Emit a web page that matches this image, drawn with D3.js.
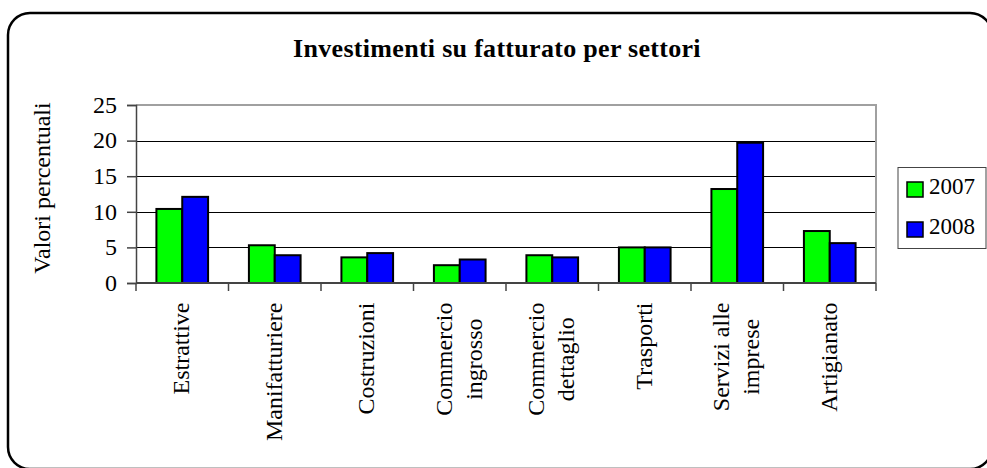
<!DOCTYPE html>
<html>
<head>
<meta charset="utf-8">
<script src="https://cdn.jsdelivr.net/npm/d3@7"></script>
<style>
  body { margin: 0; background: #fff; }
  svg text { font-family: "Liberation Serif", "Times New Roman", serif; fill: #000; }
</style>
</head>
<body>
<svg id="chart" width="987" height="468"></svg>
<script>
// sectors (a "\n" wraps the label onto two lines)
const categories = [
    "Estrattive", "Manifatturiere", "Costruzioni", "Commercio\ningrosso",
    "Commercio\ndettaglio", "Trasporti", "Servizi alle\nimprese", "Artigianato"
]
const series = ["2007", "2008"]
const values2007 = [10.4, 5.3, 3.6, 2.5, 3.9, 5.0, 13.2, 7.3]
const values2008 = [12.1, 3.9, 4.2, 3.3, 3.6, 5.0, 19.7, 5.6]
const yTicks = [0, 5, 10, 15, 20, 25]

const colors = { "2007": "#00ff00", "2008": "#0000ff" }

const plotLeft = 136,
    plotRight = 876,
    plotTop = 105,
    plotBottom = 283

const svg = d3.select("#chart")

// rounded outer frame (runs slightly off the right / bottom edge)
svg.append("rect")
    .attr("x", 8).attr("y", 13)
    .attr("width", 984).attr("height", 456)
    .attr("rx", 22).attr("ry", 22)
    .attr("fill", "#fff")
    .attr("stroke", "#000")
    .attr("stroke-width", 2.5)

svg.append("text")
    .attr("x", 497).attr("y", 57)
    .attr("text-anchor", "middle")
    .style("font-size", "26px")
    .style("font-weight", "bold")
    .style("letter-spacing", "0.3px")
    .text("Investimenti su fatturato per settori")

const x0 = d3.scaleBand()
    .domain(categories)
    .range([plotLeft, plotRight])

const x1 = d3.scaleBand()
    .domain(series)
    .range([0, x0.bandwidth()])
    .paddingInner(0)
    .paddingOuter(0.79)

const y = d3.scaleLinear()
    .domain([0, 25])
    .range([plotBottom, plotTop])

// gridlines
svg.append("g")
    .selectAll("line")
    .data(yTicks.filter(d => d > 0 && d < 25))
    .enter()
    .append("line")
    .attr("x1", plotLeft).attr("x2", plotRight)
    .attr("y1", d => Math.round(y(d)) + 0.5)
    .attr("y2", d => Math.round(y(d)) + 0.5)
    .attr("stroke", "#000")
    .attr("stroke-width", 1)

// plot area border, top and right
svg.append("path")
    .attr("d", `M${plotLeft},${y(25)}H${plotRight}V${plotBottom}`)
    .attr("fill", "none")
    .attr("stroke", "#a0a0a0")
    .attr("stroke-width", 2)

const rows = categories.map((c, i) => ({ cat: c, "2007": values2007[i], "2008": values2008[i] }))

// bars
svg.append("g")
    .selectAll("g")
    .data(rows)
    .enter()
    .append("g")
    .attr("transform", d => `translate(${x0(d.cat)},0)`)
    .selectAll("rect")
    .data(d => series.map(s => ({ key: s, value: d[s] })))
    .enter()
    .append("rect")
    .attr("x", d => x1(d.key))
    .attr("y", d => y(d.value))
    .attr("width", x1.bandwidth())
    .attr("height", d => y(0) - y(d.value))
    .attr("fill", d => colors[d.key])
    .attr("stroke", "#000")
    .attr("stroke-width", 2)

// y axis
const yAxis = d3.axisLeft(y)
    .tickValues(yTicks)
    .tickSize(9)
    .tickPadding(10)

const gy = svg.append("g")
    .attr("transform", `translate(${plotLeft},0)`)
    .call(yAxis)
gy.select(".domain").attr("stroke", "#444").attr("stroke-width", 1.5)
gy.selectAll(".tick line").attr("stroke", "#444").attr("stroke-width", 1.5)
gy.selectAll(".tick text")
    .attr("dy", "0.3em")
    .style("font-family", "Liberation Serif, serif")
    .style("font-size", "24px")

// x axis line and boundary ticks
svg.append("line")
    .attr("x1", plotLeft).attr("x2", plotRight)
    .attr("y1", plotBottom).attr("y2", plotBottom)
    .attr("stroke", "#444").attr("stroke-width", 2)

const bounds = categories.map(c => x0(c)).concat([plotRight])
svg.append("g")
    .selectAll("line")
    .data(bounds)
    .enter()
    .append("line")
    .attr("x1", d => d).attr("x2", d => d)
    .attr("y1", plotBottom).attr("y2", plotBottom + 8)
    .attr("stroke", "#444").attr("stroke-width", 1.5)

// rotated category labels, block anchored at the top, lines centred
const labelTop = 302.5,
    lineGap = 30
categories.forEach(c => {
    const lines = c.split("\n")
    const cx = x0(c) + x0.bandwidth() / 2
    const g = svg.append("g")
    const texts = lines.map((t, i) => {
        const off = (i - (lines.length - 1) / 2) * lineGap
        return g.append("text")
            .attr("text-anchor", "middle")
            .attr("dy", "0.3em")
            .style("font-size", "24px")
            .attr("data-x", cx + off)
            .text(t)
    })
    const maxLen = d3.max(texts, t => t.node().getComputedTextLength())
    texts.forEach(t => {
        t.attr("transform", `translate(${+t.attr("data-x")},${labelTop + maxLen / 2}) rotate(-90)`)
    })
})

// y title
svg.append("text")
    .attr("transform", "translate(50,188) rotate(-90)")
    .attr("text-anchor", "middle")
    .style("font-size", "24px")
    .text("Valori percentuali")

// legend
const legend = svg.append("g")
legend.append("rect")
    .attr("x", 898).attr("y", 167.5)
    .attr("width", 88).attr("height", 81)
    .attr("fill", "#fff")
    .attr("stroke", "#444")
    .attr("stroke-width", 1)

series.forEach((s, i) => {
    const yy = 182 + i * 40
    legend.append("rect")
        .attr("x", 907).attr("y", yy)
        .attr("width", 16).attr("height", 15)
        .attr("fill", colors[s])
        .attr("stroke", "#000")
        .attr("stroke-width", 1.5)
    legend.append("text")
        .attr("x", 929).attr("y", yy + 12)
        .style("font-size", "23px")
        .text(s)
})
</script>
</body>
</html>
